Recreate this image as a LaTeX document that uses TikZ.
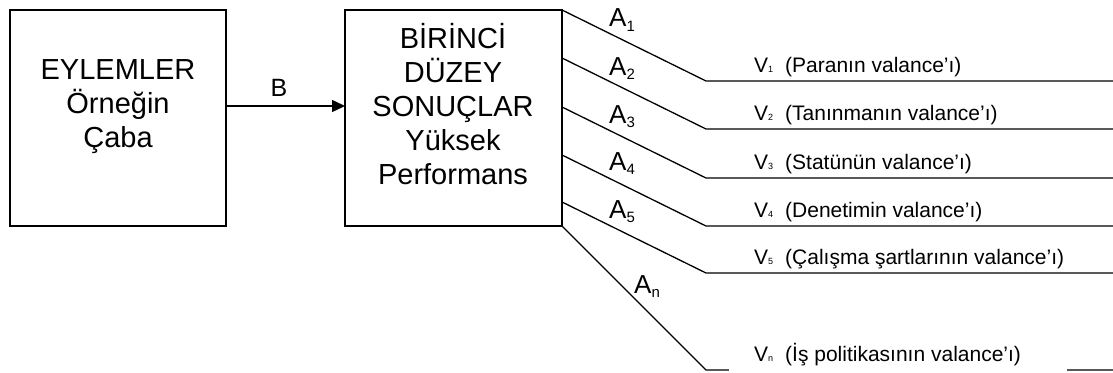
\documentclass[tikz,border=0pt]{standalone}
\usepackage{fontspec}
\setmainfont{Liberation Sans}
\usetikzlibrary{arrows.meta,calc}
\newcommand{\Alab}[1]{A\raisebox{-0.3ex}{\fontsize{15}{15}\selectfont #1}}
\newcommand{\Vlab}[2]{V\raisebox{0pt}{\fontsize{9}{9}\selectfont #1}\hspace{12pt}#2}
\begin{document}
\begin{tikzpicture}[x=1pt,y=-1pt,
  boxst/.style={draw,line width=1.5pt,minimum width=217pt,minimum height=216pt,anchor=north west,inner sep=0pt,outer sep=0pt},
  bigtxt/.style={align=center,font=\fontsize{29}{34}\selectfont,inner sep=0pt},
  alab/.style={anchor=base west,inner sep=0pt,font=\fontsize{26}{30}\selectfont},
  vlab/.style={anchor=base west,inner sep=0pt,font=\fontsize{21}{24}\selectfont},
  branch/.style={line width=1.3pt},
  arr/.style={line width=1.5pt,-{Triangle[length=13pt,width=12pt]}}]
\useasboundingbox (0,0) rectangle (1113,372);
\node[boxst,minimum width=216pt] (act) at (10,10) {};
\node[bigtxt] (acttxt) at (118,107) {EYLEMLER\\Örneğin\\Çaba};
\node[boxst] (res) at (345,10) {};
\node[bigtxt] (restxt) at (453,104) {BİRİNCİ\\DÜZEY\\SONUÇLAR\\Yüksek\\Performans};
\coordinate (b) at (0,106);
\draw[arr] (act.east |- b) -- (res.west |- b);
\node[font=\fontsize{25}{28}\selectfont,inner sep=0pt] (blab) at (279,88) {B};
% branch starts on right edge of result box
\coordinate (s1) at (res.north east);
\coordinate (s2) at ($(res.north east)+(0,48)$);
\coordinate (s3) at ($(res.north east)+(0,97)$);
\coordinate (s4) at ($(res.north east)+(0,145)$);
\coordinate (s5) at ($(res.north east)+(0,192)$);
\coordinate (s6) at (res.south east);
\coordinate (e1) at (706,81);
\coordinate (e2) at (706,129);
\coordinate (e3) at (706,178);
\coordinate (e4) at (706,226);
\coordinate (e5) at (706,273);
\coordinate (e6) at (706,370);
\foreach \i in {1,...,6}{
  \draw[branch] (s\i) -- (e\i) -- (e\i -| 1113,0);
}
\fill[white] (729,334) rectangle (1067,373);
\node[alab] (a1) at (609,27) {\Alab{1}};
\node[alab] (a2) at (609,75) {\Alab{2}};
\node[alab] (a3) at (609,123) {\Alab{3}};
\node[alab] (a4) at (609,170) {\Alab{4}};
\node[alab] (a5) at (609,218) {\Alab{5}};
\node[alab] (an) at (634,293) {\Alab{n}};
\node[vlab] (v1) at ($(e1)+(48,-9)$) {\Vlab{1}{(Paranın valance’ı)}};
\node[vlab] (v2) at ($(e2)+(48,-9)$) {\Vlab{2}{(Tanınmanın valance’ı)}};
\node[vlab] (v3) at ($(e3)+(48,-9)$) {\Vlab{3}{(Statünün valance’ı)}};
\node[vlab] (v4) at ($(e4)+(48,-9)$) {\Vlab{4}{(Denetimin valance’ı)}};
\node[vlab] (v5) at ($(e5)+(48,-9)$) {\Vlab{5}{(Çalışma şartlarının valance’ı)}};
\node[vlab] (vn) at ($(e6)+(48,-9)$) {\Vlab{n}{(İş politikasının valance’ı)}};
\end{tikzpicture}
\end{document}
